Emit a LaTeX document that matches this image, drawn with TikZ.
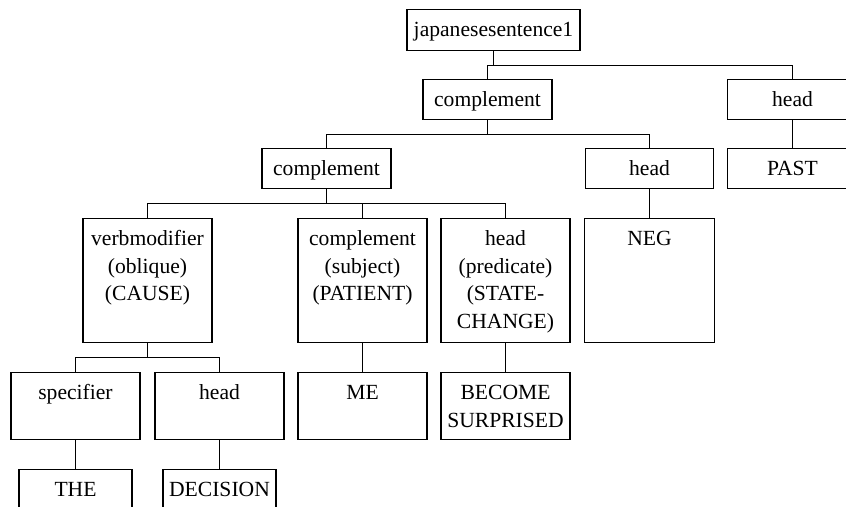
\documentclass[tikz,border=0pt]{standalone}
\usepackage{fontspec}
\setmainfont{Liberation Serif}
\usetikzlibrary{calc}
\tikzset{
  bx/.style n args={2}{draw, line width=1.1pt, anchor=north, inner sep=0pt,
    text width=#1pt, align=center, text height=27pt, text depth=#2pt,
    font=\fontsize{21.6}{27.7}\selectfont},
  tree/.style={line width=1.1pt,
    to path={(\tikztostart) |- ($(\tikztostart)!.5!(\tikztotarget)$) -| (\tikztotarget)}},
  single/.style={line width=1.1pt},
}
\begin{document}
\begin{tikzpicture}[x=1pt,y=-1pt]
\useasboundingbox (0,0) rectangle (846,506);
\clip (0,0) rectangle (846,506);
\node[bx={173}{14}] (root) at (493.5,9) {japanesesentence1};
\node[bx={129}{13}] (c1) at (487.5,79) {complement};
\node[bx={130}{13}] (h1) at (792.5,79) {head};
\node[bx={130}{13}] (past) at (792.5,148) {PAST};
\node[bx={129}{13}] (c2) at (326.5,148) {complement};
\node[bx={128}{13}] (h2) at (649.5,148) {head};
\node[bx={129}{97}] (vm) at (147.5,218) {verbmodifier\\(oblique)\\(CAUSE)};
\node[bx={129}{97}] (cs) at (362.5,218) {complement\\(subject)\\(PATIENT)};
\node[bx={129}{97}] (hp) at (505.5,218) {head\\(predicate)\\(STATE-\\CHANGE)};
\node[bx={130}{97}] (neg) at (649.5,218) {NEG};
\node[bx={129}{40}] (spec) at (75.5,372) {specifier};
\node[bx={129}{40}] (hd) at (219.5,372) {head};
\node[bx={129}{40}] (me) at (362.5,372) {ME};
\node[bx={129}{40}] (bs) at (505.5,372) {BECOME\\SURPRISED};
\node[bx={113}{13}] (the) at (75.5,469) {THE};
\node[bx={113}{13}] (dec) at (219.5,469) {DECISION};
\draw[tree] (root.south) to (c1.north) (root.south) to (h1.north);
\draw[single] (h1.south) -- (past.north);
\draw[tree] (c1.south) to (c2.north) (c1.south) to (h2.north);
\draw[single] (h2.south) -- (neg.north);
\draw[tree] (c2.south) to (vm.north) (c2.south) to (cs.north) (c2.south) to (hp.north);
\draw[single] (cs.south) -- (me.north);
\draw[single] (hp.south) -- (bs.north);
\draw[tree] (vm.south) to (spec.north) (vm.south) to (hd.north);
\draw[single] (spec.south) -- (the.north);
\draw[single] (hd.south) -- (dec.north);
\end{tikzpicture}
\end{document}
